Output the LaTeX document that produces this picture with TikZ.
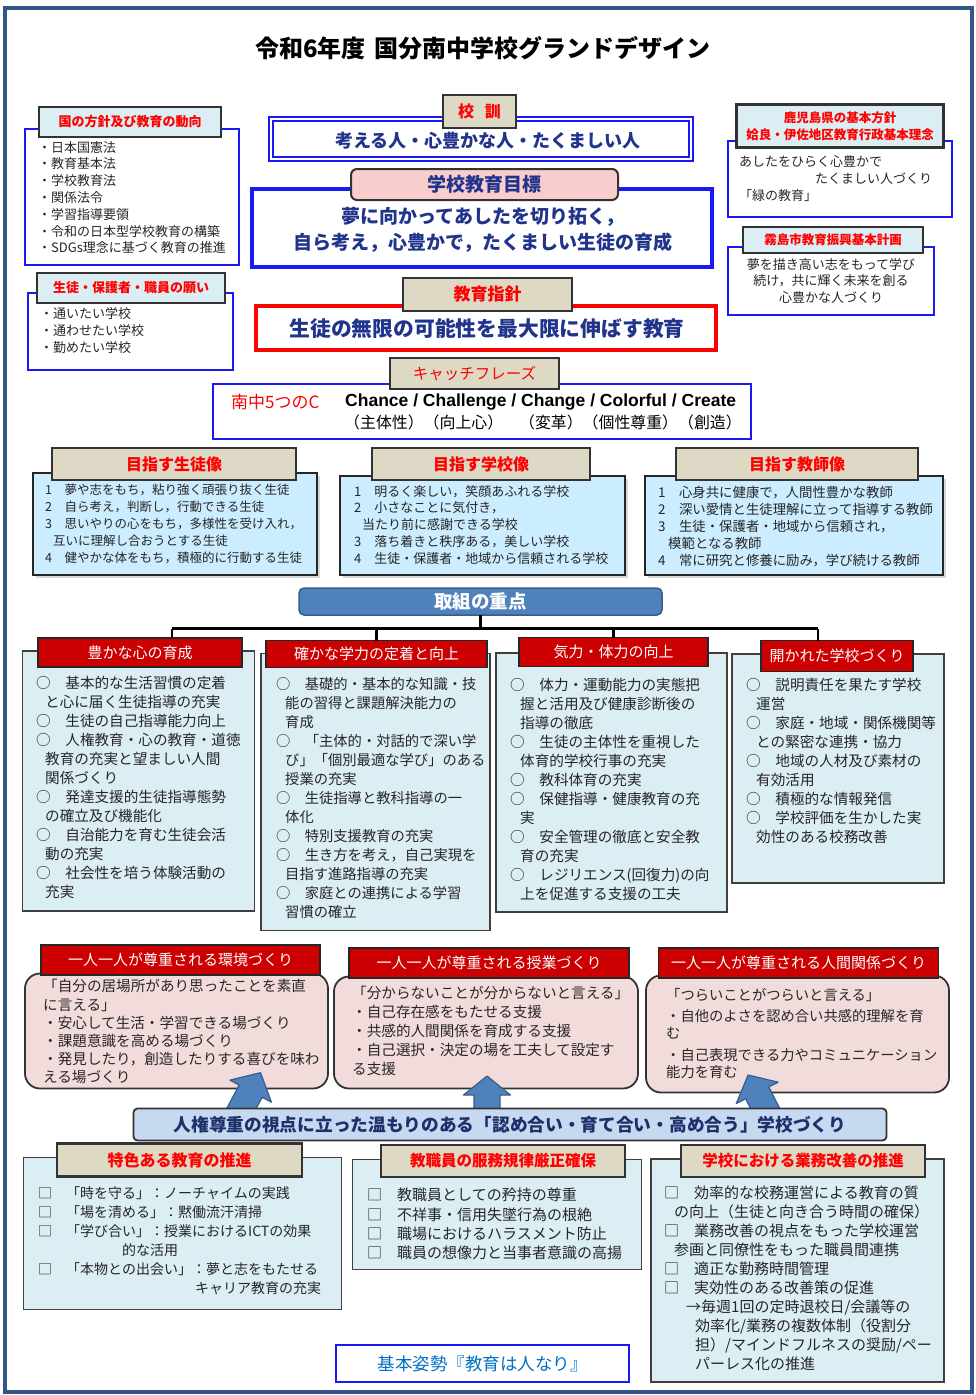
\documentclass[tikz,border=0pt]{standalone}
\usepackage{fontspec}
\setmainfont{Noto Sans CJK JP}
\newfontfamily\latinsans{Liberation Sans}
\usetikzlibrary{shadows}

\definecolor{framecol}{RGB}{52,86,135}
\definecolor{capbeigefill}{RGB}{221,217,196}
\definecolor{capcyanfill}{RGB}{218,238,243}
\definecolor{skyfill}{RGB}{204,236,255}
\definecolor{icefill}{RGB}{219,238,244}
\definecolor{pinkcap}{RGB}{250,205,205}
\definecolor{pinkfill}{RGB}{242,220,219}
\definecolor{capredfill}{RGB}{204,0,0}
\definecolor{linered}{RGB}{255,0,0}
\definecolor{lineblue}{RGB}{25,25,245}
\definecolor{navytext}{RGB}{32,52,140}
\definecolor{deepnavy}{RGB}{28,48,105}
\definecolor{jutenfill}{RGB}{79,129,189}
\definecolor{jutenline}{RGB}{56,93,138}
\definecolor{bannerfill}{RGB}{198,217,241}
\definecolor{mottoblue}{RGB}{0,112,192}

\newcommand\fsz[2]{\fontsize{#1}{#2}\selectfont}

\tikzset{
  sized/.style 2 args={minimum width=#1, minimum height=#2, inner sep=0, outer sep=0},
  capbeigebox/.style={fill=capbeigefill, draw=black!80, line width=2.2, text=red, font=\fsz{16}{18}\bfseries},
  capcyanbox/.style={fill=capcyanfill, draw=black!80, line width=2.2, text=red, font=\fsz{13}{16}\bfseries},
  capredbox/.style={fill=capredfill, draw=black!85, line width=1.8, text=white, font=\fsz{15}{17}},
  blueframe/.style={draw=lineblue, line width=2, fill=white},
  skybox/.style={fill=skyfill, draw=black!85, line width=2, drop shadow={shadow xshift=3pt, shadow yshift=-3pt, fill=black!30, opacity=.5}},
  icebox/.style={fill=icefill, draw=black!75, line width=1.8},
  pinkbox/.style={fill=pinkfill, draw=black!80, line width=1.8, rounded corners=15},
  listing/.style={anchor=north west, align=left, inner sep=0, text=black!85},
  tree/.style={line width=2.8, black},
  arrowpaint/.style={fill=jutenfill, draw=jutenline, line width=1.2, line join=round}
}

\begin{document}
\begin{tikzpicture}[x=1pt, y=-1pt]
\useasboundingbox (0,0) rectangle (976,1395);
\draw[framecol, line width=4.5] (5,8) rectangle (972,1392);

\node[font=\fsz{24}{26}\bfseries] (title) at (483,48) {令和6年度\hspace{9pt}国分南中学校グランドデザイン};

% national policy and wishes
\node[blueframe, sized={214}{136}] (kuniB) at (132,197) {};
\node[capcyanbox, sized={182}{30}] (kuniH) at (130,122) {国の方針及び教育の動向};
\node[listing, font=\fsz{13}{16.8}] (kuniT) at (38,141) {・日本国憲法\\・教育基本法\\・学校教育法\\・関係法令\\・学習指導要領\\・令和の日本型学校教育の構築\\・SDGs理念に基づく教育の推進};
\node[blueframe, sized={205}{77}] (negaiB) at (130.5,331) {};
\node[capcyanbox, sized={188}{30}] (negaiH) at (131,288) {生徒・保護者・職員の願い};
\node[listing, font=\fsz{13}{17}] (negaiT) at (40,307) {・通いたい学校\\・通わせたい学校\\・勤めたい学校};

% kokun, goal, guideline
\node[blueframe, sized={420}{40}, double=white, double distance=2, line width=1.6] (kunB) at (481,139) {};
\node[capbeigebox, sized={73}{33}] (kunH) at (479.5,111.5) {校\hspace{11pt}訓};
\node[font=\fsz{18}{20}\bfseries, text=navytext] (kunT) at (488,141) {考える人・心豊かな人・たくましい人};
\node[draw=lineblue, line width=3.5, fill=white, sized={460}{78}] (mokuB) at (482,228) {};
\node[fill=pinkcap, draw=black!80, line width=2, rounded corners=6, sized={267}{31}, text=navytext, font=\fsz{19}{21}\bfseries] (mokuH) at (484.5,184.5) {学校教育目標};
\node[align=center, text=navytext, font=\fsz{19}{26}\bfseries] (mokuT) at (483,230) {夢に向かってあしたを切り拓く，\\自ら考え，心豊かで，たくましい生徒の育成};
\node[draw=linered, line width=3.5, fill=white, sized={460}{44}] (shishinB) at (486,328) {};
\node[capbeigebox, sized={169}{33}, font=\fsz{17}{19}\bfseries] (shishinH) at (487.5,294.5) {教育指針};
\node[text=navytext, font=\fsz{20.8}{22}\bfseries] (shishinT) at (487,329) {生徒の無限の可能性を最大限に伸ばす教育};

% catchphrase
\node[blueframe, sized={538}{55}] (catchB) at (482,411.5) {};
\node[capbeigebox, sized={169}{31}, font=\fsz{15.5}{17}] (catchH) at (474.5,373.5) {キャッチフレーズ};
\node[anchor=west, inner sep=0, text=linered, font=\fsz{17}{18}] (fiveC) at (231,402) {南中5つのC};
\node[anchor=west, inner sep=0, font=\fsz{17.5}{18}\latinsans\bfseries] (cwords) at (345,402) {Chance / Challenge / Change / Colorful / Create};
\node[anchor=west, inner sep=0, font=\fsz{15.9}{17}] (cmeaning) at (344,422) {（主体性）（向上心）　（変革）（個性尊重）（創造）};

% prefecture and city
\node[blueframe, sized={224}{76}] (kenB) at (839.5,178.5) {};
\node[capcyanbox, sized={207}{43}, align=center, font=\fsz{12.5}{17}\bfseries] (kenH) at (840,126) {鹿児島県の基本方針\\姶良・伊佐地区教育行政基本理念};
\node[listing, font=\fsz{13}{17}] (kenT) at (739,155) {あしたをひらく心豊かで\\\hspace*{76pt}たくましい人づくり\\「緑の教育」};
\node[blueframe, sized={206}{68}] (kiriB) at (831,280.5) {};
\node[capcyanbox, sized={180}{26}, font=\fsz{12.5}{14}\bfseries] (kiriH) at (833,240) {霧島市教育振興基本計画};
\node[anchor=north, align=center, inner sep=0, font=\fsz{13}{16.5}, text=black!85] (kiriT) at (831,258) {夢を描き高い志をもって学び\\続け，共に輝く未来を創る\\心豊かな人づくり};

% ideal images
\node[skybox, sized={284}{102}] (seitoB) at (174.5,524) {};
\node[capbeigebox, sized={244}{32}] (seitoH) at (174,464) {目指す生徒像};
\node[listing, font=\fsz{12.5}{17}] (seitoT) at (45,483.5) {1　夢や志をもち，粘り強く頑張り抜く生徒\\2　自ら考え，判断し，行動できる生徒\\3　思いやりの心をもち，多様性を受け入れ，\\\hspace*{8pt}互いに理解し合おうとする生徒\\4　健やかな体をもち，積極的に行動する生徒};
\node[skybox, sized={285}{99}] (gakkoB) at (482.5,525.5) {};
\node[capbeigebox, sized={218}{32}] (gakkoH) at (481,464) {目指す学校像};
\node[listing, font=\fsz{13}{16.8}] (gakkoT) at (354,485) {1　明るく楽しい，笑顔あふれる学校\\2　小さなことに気付き，\\\hspace*{8pt}当たり前に感謝できる学校\\3　落ち着きと秩序ある，美しい学校\\4　生徒・保護者・地域から信頼される学校};
\node[skybox, sized={298}{99}] (kyoshiB) at (794,525.5) {};
\node[capbeigebox, sized={242}{32}] (kyoshiH) at (797,464) {目指す教師像};
\node[listing, font=\fsz{13.4}{17}] (kyoshiT) at (658,486) {1　心身共に健康で，人間性豊かな教師\\2　深い愛情と生徒理解に立って指導する教師\\3　生徒・保護者・地域から信頼され，\\\hspace*{10pt}模範となる教師\\4　常に研究と修養に励み，学び続ける教師};

% focus areas
\node[fill=jutenfill, draw=jutenline, line width=1.5, rounded corners=5, sized={363}{27}, text=white, font=\fsz{18.5}{20}\bfseries] (juten) at (480.5,601.5) {取組の重点};

\node[icebox, sized={232}{260}] (kokoroB) at (138.5,781) {};
\node[capredbox, sized={204}{29}] (kokoroH) at (140,652.5) {豊かな心の育成};
\node[listing, font=\fsz{14.6}{19}] (kokoroT) at (36,676.3) {○　基本的な生活習慣の定着\\\hspace*{9pt}と心に届く生徒指導の充実\\○　生徒の自己指導能力向上\\○　人権教育・心の教育・道徳\\\hspace*{9pt}教育の充実と望ましい人間\\\hspace*{9pt}関係づくり\\○　発達支援的生徒指導態勢\\\hspace*{9pt}の確立及び機能化\\○　自治能力を育む生徒会活\\\hspace*{9pt}動の充実\\○　社会性を培う体験活動の\\\hspace*{9pt}充実};
\node[icebox, sized={229}{277}] (gakuB) at (375.5,792) {};
\node[capredbox, sized={221}{27}] (gakuH) at (376.5,654) {確かな学力の定着と向上};
\node[listing, font=\fsz{14.3}{19}] (gakuT) at (276,677.4) {○　基礎的・基本的な知識・技\\\hspace*{9pt}能の習得と課題解決能力の\\\hspace*{9pt}育成\\○　「主体的・対話的で深い学\\\hspace*{9pt}び」「個別最適な学び」のある\\\hspace*{9pt}授業の充実\\○　生徒指導と教科指導の一\\\hspace*{9pt}体化\\○　特別支援教育の充実\\○　生き方を考え，自己実現を\\\hspace*{9pt}目指す進路指導の充実\\○　家庭との連携による学習\\\hspace*{9pt}習慣の確立};
\node[icebox, sized={231}{259}] (kiryokuB) at (611.5,782.5) {};
\node[capredbox, sized={189}{29}] (kiryokuH) at (613.5,652) {気力・体力の向上};
\node[listing, font=\fsz{14.6}{19}] (kiryokuT) at (510,678.3) {○　体力・運動能力の実態把\\\hspace*{10pt}握と活用及び健康診断後の\\\hspace*{10pt}指導の徹底\\○　生徒の主体性を重視した\\\hspace*{10pt}体育的学校行事の充実\\○　教科体育の充実\\○　保健指導・健康教育の充\\\hspace*{10pt}実\\○　安全管理の徹底と安全教\\\hspace*{10pt}育の充実\\○　レジリエンス(回復力)の向\\\hspace*{10pt}上を促進する支援の工夫};
\node[icebox, sized={212}{229}] (hirakaB) at (838,768.5) {};
\node[capredbox, sized={152}{31}] (hirakaH) at (837,656) {開かれた学校づくり};
\node[listing, font=\fsz{14.6}{19}] (hirakaT) at (746,678.3) {○　説明責任を果たす学校\\\hspace*{10pt}運営\\○　家庭・地域・関係機関等\\\hspace*{10pt}との緊密な連携・協力\\○　地域の人材及び素材の\\\hspace*{10pt}有効活用\\○　積極的な情報発信\\○　学校評価を生かした実\\\hspace*{10pt}効性のある校務改善};

\coordinate (forkL) at (172,628.5);
\coordinate (forkR) at (818,628.5);
\draw[tree] (juten) -- (juten |- forkL);
\draw[tree] (forkL) -- (forkR);
\draw[tree] (forkL) -- (forkL |- kokoroH.north);
\draw[tree] (gakuH.north |- forkL) -- (gakuH.north);
\draw[tree] (kiryokuH.north |- forkL) -- (kiryokuH.north);
\draw[tree] (forkR) -- (forkR |- hirakaH.north);

% respect for each one
\node[pinkbox, sized={303}{115}] (kankyoB) at (176.5,1031) {};
\node[capredbox, sized={279}{30}] (kankyoH) at (180.5,960) {一人一人が尊重される環境づくり};
\node[listing, font=\fsz{14.6}{18.2}] (kankyoT) at (43,979.3) {「自分の居場所があり思ったことを素直\\に言える」\\・安心して生活・学習できる場づくり\\・課題意識を高める場づくり\\・発見したり，創造したりする喜びを味わ\\える場づくり};
\node[pinkbox, sized={304}{112}] (jugyoB) at (486,1032.5) {};
\node[capredbox, sized={280}{30}] (jugyoH) at (489,963) {一人一人が尊重される授業づくり};
\node[listing, font=\fsz{14.6}{19}] (jugyoT) at (352,986.3) {「分からないことが分からないと言える」\\・自己存在感をもたせる支援\\・共感的人間関係を育成する支援\\・自己選択・決定の場を工夫して設定す\\る支援};
\node[pinkbox, sized={303}{117}] (ningenB) at (797.5,1034) {};
\node[capredbox, sized={280}{30}] (ningenH) at (798.5,963) {一人一人が尊重される人間関係づくり};
\node[listing, font=\fsz{14.3}{17}] (ningenT) at (666,988.5) {「つらいことがつらいと言える」\\[4pt]・自他のよさを認め合い共感的理解を育\\む\\[4.5pt]・自己表現できる力やコミュニケーション\\能力を育む};

% block arrows from the banner
\filldraw[arrowpaint, shift={(238,1115)}, rotate=-28] (-13,0) -- (-13,-27) -- (-23.5,-27) -- (0,-48) -- (23.5,-27) -- (13,-27) -- (13,0) -- cycle;
\filldraw[arrowpaint, shift={(487,1118)}] (-13,0) -- (-13,-23) -- (-23.5,-23) -- (0,-42) -- (23.5,-23) -- (13,-23) -- (13,0) -- cycle;
\filldraw[arrowpaint, shift={(769,1116)}, rotate=27] (-13,0) -- (-13,-26) -- (-23.5,-26) -- (0,-46) -- (23.5,-26) -- (13,-26) -- (13,0) -- cycle;

\node[fill=bannerfill, draw=black!80, line width=1.8, rounded corners=4, sized={753}{32}, text=deepnavy, font=\fsz{17.7}{19}\bfseries] (banner) at (510,1124.5) {人権尊重の視点に立った温もりのある「認め合い・育て合い・高め合う」学校づくり};

% bottom
\node[icebox, sized={318}{152}] (tokushokuB) at (182.5,1233.5) {};
\node[capbeigebox, sized={245}{33}] (tokushokuH) at (179.5,1160) {特色ある教育の推進};
\node[listing, font=\fsz{14}{19}] (tokushokuT) at (38,1186.6) {□　「時を守る」：ノーチャイムの実践\\□　「場を清める」：黙働流汗清掃\\□　「学び合い」：授業におけるICTの効果\\\hspace*{84pt}的な活用\\□　「本物との出会い」：夢と志をもたせる\\\hspace*{157pt}キャリア教育の充実};
\node[icebox, sized={289}{110}] (fukumuB) at (497,1214.5) {};
\node[capbeigebox, sized={244}{32}, font=\fsz{15.5}{17}\bfseries] (fukumuH) at (503,1161) {教職員の服務規律厳正確保};
\node[listing, font=\fsz{15}{19.3}] (fukumuT) at (367,1188) {□　教職員としての矜持の尊重\\□　不祥事・信用失墜行為の根絶\\□　職場におけるハラスメント防止\\□　職員の想像力と当事者意識の高揚};
\node[icebox, sized={293}{223}] (kaizenB) at (797.5,1270.5) {};
\node[capbeigebox, sized={244}{32}, font=\fsz{15.5}{17}\bfseries] (kaizenH) at (803,1161) {学校における業務改善の推進};
\node[listing, font=\fsz{15}{19}] (kaizenT) at (664,1186) {□　効率的な校務運営による教育の質\\\hspace*{10pt}の向上（生徒と向き合う時間の確保）\\□　業務改善の視点をもった学校運営\\\hspace*{10pt}参画と同僚性をもった職員間連携\\□　適正な勤務時間管理\\□　実効性のある改善策の促進\\\hspace*{22pt}→毎週1回の定時退校日/会議等の\\\hspace*{31pt}効率化/業務の複数体制（役割分\\\hspace*{31pt}担）/マインドフルネスの奨励/ペー\\\hspace*{31pt}パーレス化の推進};

\node[blueframe, sized={293}{37}, text=mottoblue, font=\fsz{17.5}{19}] (motto) at (482.5,1363.5) {基本姿勢『教育は人なり』};
\end{tikzpicture}
\end{document}
